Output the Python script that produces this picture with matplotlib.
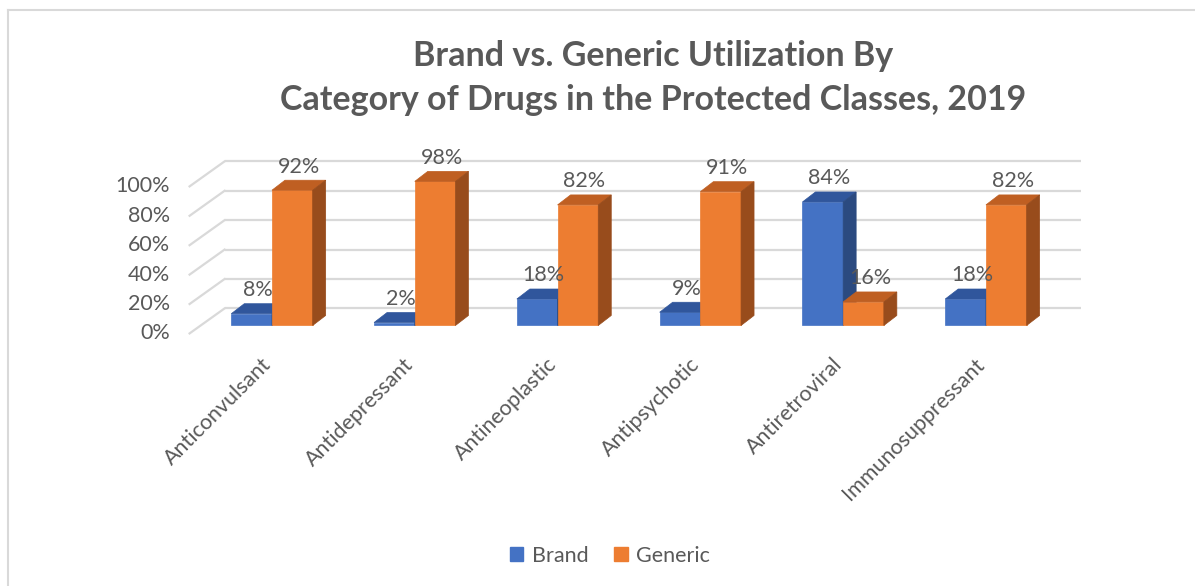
import numpy as np
import matplotlib
matplotlib.use("Agg")
from matplotlib import pyplot as plt
from matplotlib.patches import Polygon, Patch
from matplotlib.lines import Line2D

categories = ["Anticonvulsant", "Antidepressant", "Antineoplastic",
              "Antipsychotic", "Antiretroviral", "Immunosuppressant"]
brand = [8, 2, 18, 9, 84, 18]
generic = [92, 98, 82, 91, 16, 82]
series_names = ["Brand", "Generic"]
yticks = [0, 20, 40, 60, 80, 100]
title_lines = ["Brand vs. Generic Utilization By",
               "Category of Drugs in the Protected Classes, 2019"]

plt.rcParams['font.family'] = ['Lato', 'DejaVu Sans']
txt = "#595959"
grid_c = "#d9d9d9"
face = {"Brand": ("#4472c4", "#30569c", "#2b4a80"),
        "Generic": ("#ed7d31", "#bf5f22", "#984c1c")}

fig = plt.figure(figsize=(11.95, 5.86), dpi=100)
ax = fig.add_axes([0.1320, 0.4195, 0.8006, 0.3387])
ax.set_xlim(-0.8, 5.9)
ax.set_ylim(-10, 125)
ax.axis("off")

# depth offsets (data units)
bdx, bdy = 0.091, 6.8      # bar depth
fdx, fdy = -0.077, -5.4    # floor front edge vs bar front
wdx, wdy = 0.245, 17.0     # wall vs floor front
w = 0.285

x = np.arange(len(categories))
floor_l = -0.5 + fdx
floor_r = len(categories) - 0.5 + fdx

# back wall gridlines + side diagonals
for v in yticks:
    ax.plot([floor_l + wdx, floor_r + wdx], [v + fdy + wdy] * 2,
            color=grid_c, lw=1.6, zorder=0, solid_capstyle="butt")
    ax.plot([floor_l, floor_l + wdx], [v + fdy, v + fdy + wdy],
            color=grid_c, lw=1.6, zorder=0)
    ax.text(floor_l - 0.137, v + fdy, f"{v}%", ha="right", va="center",
            fontsize=15.5, color=txt)


def bar3d(x0, v, cols, z):
    front, top, side = cols
    ax.bar(x0, v, width=w, align="edge", color=front, zorder=z,
           edgecolor=front, linewidth=0.5)
    ax.add_patch(Polygon([(x0, v), (x0 + w, v), (x0 + w + bdx, v + bdy),
                          (x0 + bdx, v + bdy)], closed=True,
                         facecolor=top, edgecolor=top, lw=0.5, zorder=z))
    ax.add_patch(Polygon([(x0 + w, 0), (x0 + w + bdx, bdy),
                          (x0 + w + bdx, v + bdy), (x0 + w, v)], closed=True,
                         facecolor=side, edgecolor=side, lw=0.5, zorder=z))
    ax.text(x0 + w / 2 + bdx / 2, v + bdy + 2.4, f"{v}%", ha="center",
            va="bottom", fontsize=15.5, color=txt, zorder=5)


for i in range(len(categories)):
    bar3d(x[i] - w, brand[i], face["Brand"], 2)
    bar3d(x[i], generic[i], face["Generic"], 3)
    ax.text(x[i] - 0.03, -24.5, categories[i], rotation=45,
            rotation_mode="anchor", ha="right", va="center",
            fontsize=15.5, color=txt)

fig.text(0.5465, 1 - 56 / 586, title_lines[0], ha="center", va="center",
         fontsize=24.5, fontweight="bold", color=txt)
fig.text(0.5465, 1 - 100 / 586, title_lines[1], ha="center", va="center",
         fontsize=24.5, fontweight="bold", color=txt)

handles = [Patch(color=face[s][0], label=s) for s in series_names]
fig.legend(handles=handles, loc="center", bbox_to_anchor=(0.5105, 1 - 556 / 586),
           ncol=2, frameon=False, fontsize=15.5, handlelength=0.62,
           handleheight=0.62, handletextpad=0.4, columnspacing=1.2,
           labelcolor=txt)

# chart frame (left / top)
fig.add_artist(Line2D([7.5 / 1195, 7.5 / 1195], [0, 1 - 9.5 / 586],
                      color=grid_c, lw=1.5))
fig.add_artist(Line2D([7.5 / 1195, 1], [1 - 9.5 / 586, 1 - 9.5 / 586],
                      color=grid_c, lw=1.5))

fig.savefig("out.png", dpi=100)
